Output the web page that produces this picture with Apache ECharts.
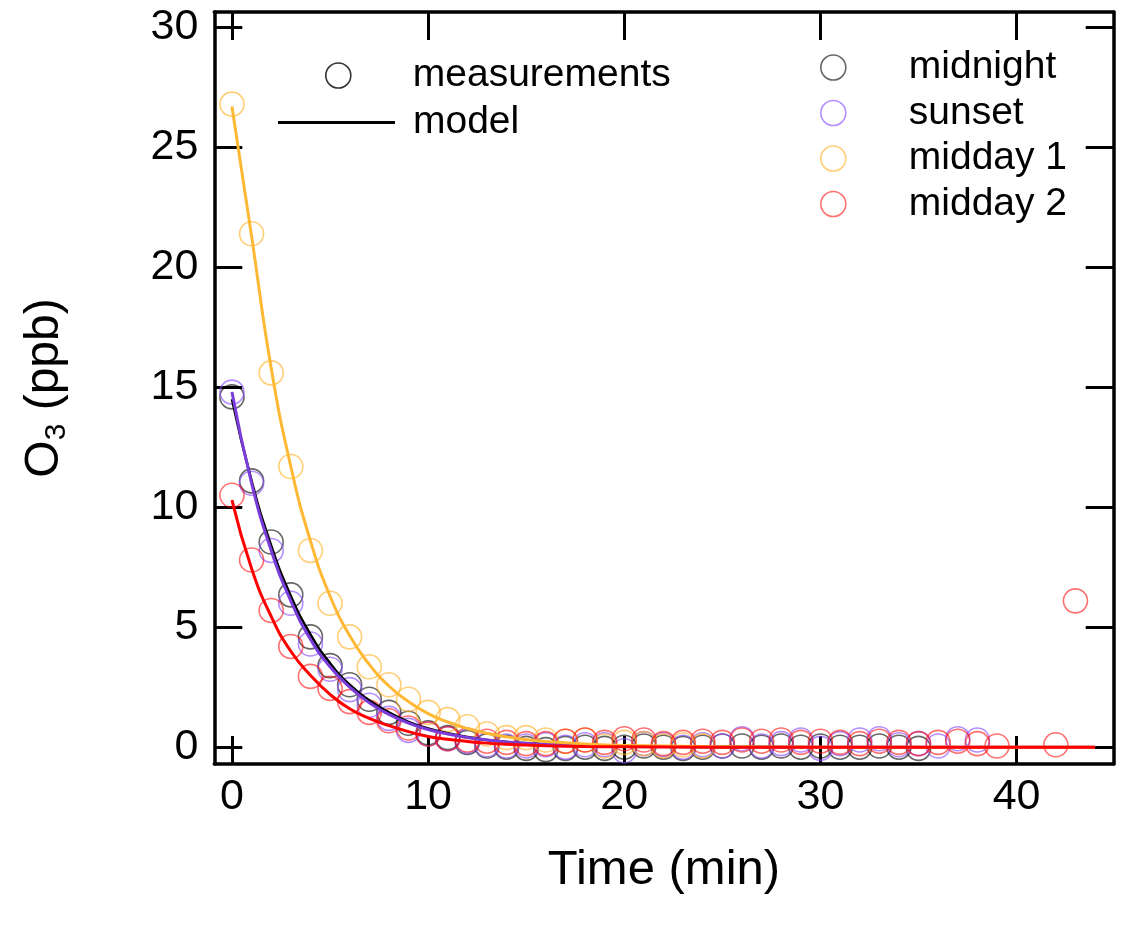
<!DOCTYPE html>
<html>
<head>
<meta charset="utf-8">
<script src="https://cdn.jsdelivr.net/npm/echarts@6/dist/echarts.min.js"></script>
<style>html,body{margin:0;padding:0;background:#fff}#c{width:1125px;height:925px}</style>
</head>
<body>
<div id="c"></div>
<script>
// ---- data ----
const midnightTime = [0,1,2,3,4,5,6,7,8,9,10,11,12,13,14,15,16,17,18,19,20,21,22,23,24,25,26,27,28,29,30,31,32,33,34,35];
const midnightO3 = [14.6,11.1,8.55,6.35,4.6,3.4,2.6,2.0,1.45,1.0,0.6,0.4,0.2,0.05,0.0,-0.05,-0.1,-0.05,0.0,-0.05,0.0,0.05,0.0,-0.05,0.0,0.05,0.05,0.0,0.05,0.0,0.05,0.0,0.0,0.05,0.0,-0.05];

const sunsetTime = [0,1,2,3,4,5,6,7,8,9,10,11,12,13,14,15,16,17,18,19,20,21,22,23,24,25,26,27,28,29,30,31,32,33,34,35,36,37,38];
const sunsetO3 = [14.8,11.0,8.2,6.0,4.3,3.25,2.4,1.75,1.2,0.7,0.55,0.35,0.25,0.1,0.05,0.05,0.1,0.0,0.1,0.1,-0.15,0.15,0.1,0.0,0.1,0.05,0.35,0.05,0.15,0.3,-0.05,0.15,0.3,0.35,0.1,0.15,0.05,0.35,0.3];

const midday1Time = [0,1,2,3,4,5,6,7,8,9,10,11,12,13,14,15,16,17,18,19,20,21,22,23,24];
const midday1O3 = [26.8,21.4,15.6,11.7,8.2,6.0,4.6,3.35,2.6,2.0,1.45,1.15,0.85,0.55,0.4,0.4,0.3,0.25,0.3,0.05,0.2,0.15,0.05,0.1,0.05];

const midday2Time = [0,1,2,3,4,5,6,7,8,9,10,11,12,13,14,15,16,17,18,19,20,21,22,23,24,25,26,27,28,29,30,31,32,33,34,35,36,37,38,39,42,43];
const midday2O3 = [10.5,7.8,5.7,4.2,2.95,2.45,1.9,1.45,1.1,0.8,0.55,0.35,0.3,0.25,0.2,0.15,0.15,0.25,0.3,0.2,0.35,0.3,0.15,0.2,0.25,0.2,0.3,0.25,0.3,0.2,0.25,0.2,0.15,0.25,0.2,0.15,0.2,0.25,0.15,0.05,0.1,6.1];

// model curves read at these times
const modelTime = [0,1,2,3,4,5,6,7,8,9,10,11,12,13,14,15,16,18,20,25,30,44];
const modelMidnight = [14.5,11.1,8.4,6.3,4.7,3.5,2.6,1.95,1.45,1.05,0.78,0.58,0.42,0.3,0.22,0.16,0.12,0.06,0.03,0.01,0,0];
const modelSunset = [14.8,11.0,8.2,6.1,4.5,3.35,2.5,1.85,1.37,1.0,0.74,0.55,0.4,0.3,0.22,0.16,0.12,0.06,0.03,0.01,0,0];
const modelMidday1 = [26.7,21.3,15.8,11.7,8.6,6.3,4.65,3.45,2.55,1.9,1.4,1.05,0.78,0.58,0.43,0.32,0.24,0.13,0.07,0.02,0,0];
const modelMidday2 = [10.3,7.45,5.45,4.0,3.0,2.2,1.6,1.2,0.9,0.65,0.45,0.33,0.24,0.17,0.12,0.09,0.06,0.03,0.02,0,0,0];

const xTicks = [0,10,20,30,40];
const yTicks = [0,5,10,15,20,25,30];

const seriesNames = ['midnight','sunset','midday 1','midday 2'];
// ---- styling ----
const FONT = 'Liberation Sans, Arial, sans-serif';
const circleColors = ['rgba(0,0,0,0.75)','rgba(140,80,255,0.8)','rgba(255,178,40,0.8)','rgba(255,0,0,0.7)'];
const lineColors = ['#000000','#7a3ddb','#ffb833','#ff0000'];

function pairs(t, v){ return t.map((x,i)=>[x, v[i]]); }

const obsSets = [pairs(midnightTime,midnightO3), pairs(sunsetTime,sunsetO3), pairs(midday1Time,midday1O3), pairs(midday2Time,midday2O3)];
const modelSets = [pairs(modelTime,modelMidnight), pairs(modelTime,modelSunset), pairs(modelTime,modelMidday1), pairs(modelTime,modelMidday2)];

const series = [];
obsSets.forEach((d,i)=>{
  series.push({
    name: seriesNames[i], type:'scatter', data:d, symbol:'circle', symbolSize:24,
    itemStyle:{color:'transparent', borderColor:circleColors[i], borderWidth:1.6},
    emphasis:{disabled:true}, z:2
  });
});
modelSets.forEach((d,i)=>{
  series.push({
    name: seriesNames[i]+' model', type:'line', data:d, smooth:0.5,
    showSymbol:false, symbol:'none', lineStyle:{color:lineColors[i], width: i===0?2.6:3},
    emphasis:{disabled:true}, z:3
  });
});
series.push({name:'measurements', type:'scatter', data:[], itemStyle:{color:'transparent', borderColor:'#000', borderWidth:1.6}});
series.push({name:'model', type:'line', data:[], lineStyle:{color:'#000', width:3}, itemStyle:{color:'#000'}});

const axisLineStyle = {show:true, onZero:false, lineStyle:{color:'#000', width:3.5}};
const tickStyle = {show:true, inside:true, length:28, lineStyle:{color:'#000', width:3}};
const xMin = -0.9, xMax = 44.95, yMin = -0.7, yMax = 30.64;

const option = {
  animation:false,
  backgroundColor:'#fff',
  textStyle:{fontFamily:FONT},
  grid:{left:214.3, right:11.3, top:12, bottom:161, containLabel:false},
  xAxis:[
    {type:'value', position:'bottom', min:xMin, max:xMax,
     axisLine:axisLineStyle, axisTick:Object.assign({customValues:xTicks}, tickStyle),
     axisLabel:{customValues:xTicks, fontSize:43, color:'#000', margin:12, fontFamily:FONT},
     splitLine:{show:false},
     name:'Time (min)', nameLocation:'middle', nameGap:82,
     nameTextStyle:{fontSize:49, color:'#000', fontFamily:FONT}},
    {type:'value', position:'top', min:xMin, max:xMax,
     axisLine:axisLineStyle, axisTick:Object.assign({customValues:xTicks}, tickStyle),
     axisLabel:{show:false}, splitLine:{show:false}}
  ],
  yAxis:[
    {type:'value', position:'left', min:yMin, max:yMax,
     axisLine:axisLineStyle, axisTick:Object.assign({customValues:yTicks}, tickStyle),
     axisLabel:{customValues:yTicks, fontSize:43, color:'#000', margin:16, fontFamily:FONT},
     splitLine:{show:false},
     name:'{o|O}{s|3}{o| (ppb)}', nameLocation:'middle', nameGap:143,
     nameTextStyle:{color:'#000', fontSize:48, fontFamily:FONT,
       rich:{o:{fontSize:48, lineHeight:54, fontFamily:FONT, color:'#000'},
             s:{fontSize:30, lineHeight:30, verticalAlign:'bottom', fontFamily:FONT, color:'#000'}}}},
    {type:'value', position:'right', min:yMin, max:yMax,
     axisLine:axisLineStyle, axisTick:Object.assign({customValues:yTicks}, tickStyle),
     axisLabel:{show:false}, splitLine:{show:false}}
  ],
  legend:[
    {data:[{name:'measurements', icon:'circle', itemStyle:{color:'transparent', borderColor:'#000', borderWidth:1.6}}],
     left:320, top:51, itemWidth:25, itemHeight:25, selectedMode:false,
     textStyle:{fontSize:39, color:'#000', fontFamily:FONT, padding:[0,0,0,57]}},
    {data:[{name:'model', icon:'rect', itemStyle:{color:'#000', borderWidth:0}}],
     left:273, top:98, itemWidth:117, itemHeight:3, selectedMode:false,
     textStyle:{fontSize:39, color:'#000', fontFamily:FONT, padding:[0,0,0,13]}},
    {data:seriesNames.map((n,i)=>({name:n, icon:'circle', itemStyle:{color:'transparent', borderColor:circleColors[i], borderWidth:1.6}})),
     orient:'vertical', left:815, top:43, itemWidth:25, itemHeight:25, itemGap:6.5, selectedMode:false,
     textStyle:{fontSize:39, color:'#000', fontFamily:FONT, padding:[0,0,0,58]}}
  ],
  series: series
};
const chart = echarts.init(document.getElementById('c'), null, {renderer:'canvas'});
chart.setOption(option);
</script>
</body>
</html>
